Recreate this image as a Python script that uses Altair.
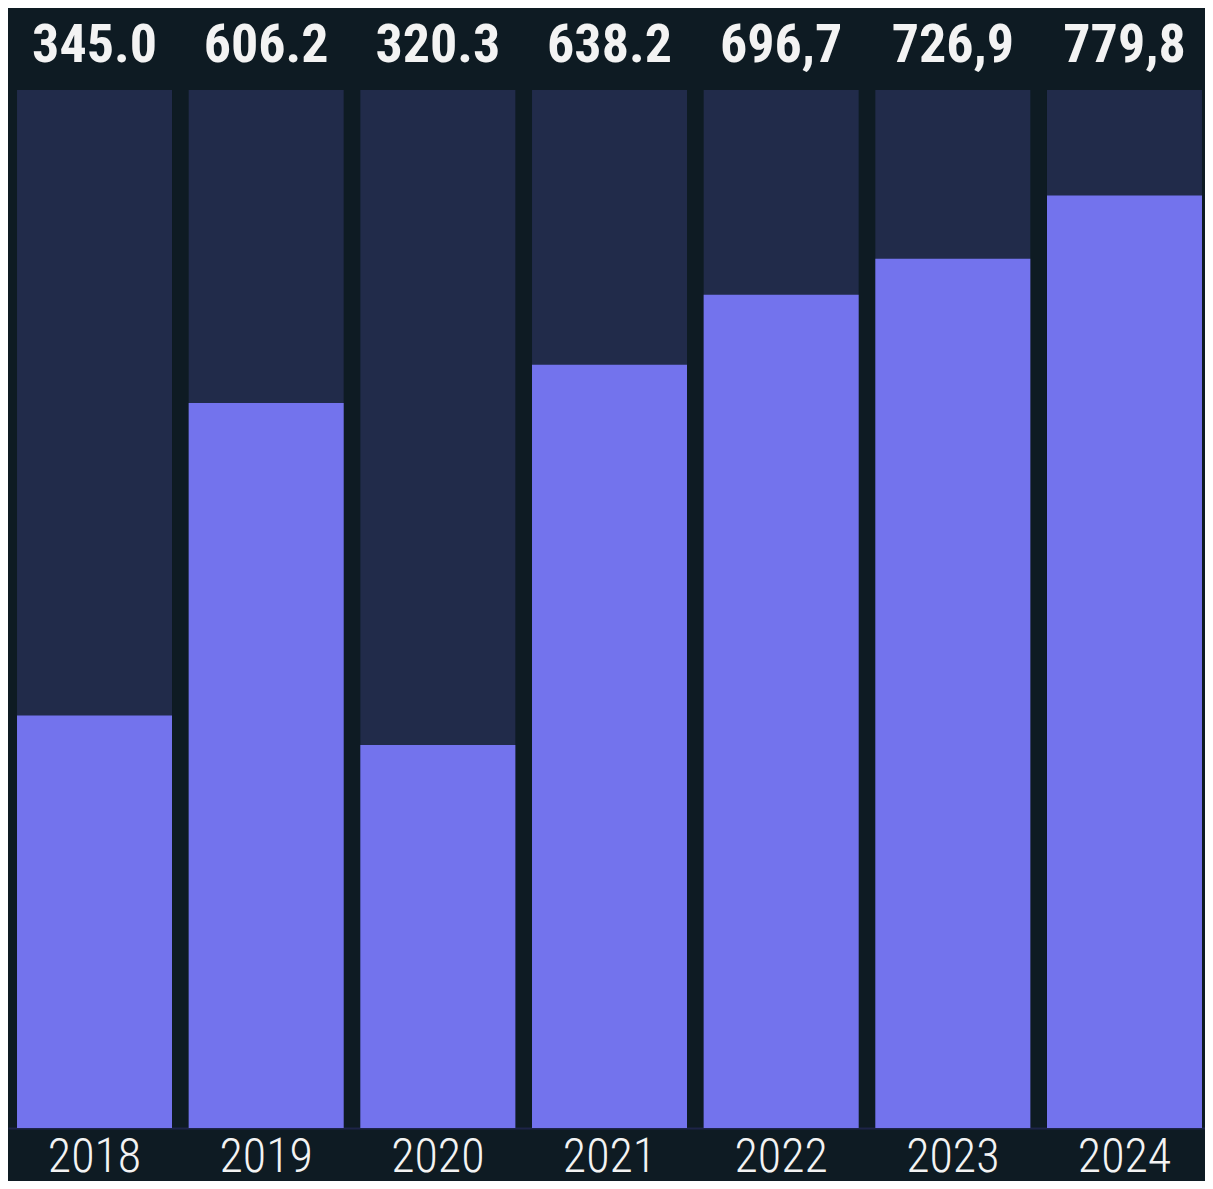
import altair as alt
import pandas as pd

years = ["2018", "2019", "2020", "2021", "2022", "2023", "2024"]
values = [345.0, 606.2, 320.3, 638.2, 696.7, 726.9, 779.8]
labels = ["345.0", "606.2", "320.3", "638.2", "696,7", "726,9", "779,8"]
track_max = 868

df = pd.DataFrame({"year": years, "value": values, "label": labels,
                   "track": [track_max] * len(years)})

BG = "#0e1b23"
NAVY = "#212b4a"
PURPLE = "#7373ed"
TEXT = "#f3f3f3"
FONT = "Roboto Condensed, Oswald, Roboto, sans-serif"

x = alt.X("year:N", title=None, sort=years,
          scale=alt.Scale(paddingInner=0.0971, paddingOuter=0.035, align=0.75),
          axis=alt.Axis(labelAngle=0, labelFont=FONT, labelFontSize=48,
                        labelColor=TEXT, labelFontWeight=300, labelPadding=5,
                        ticks=False, domain=True, domainColor="#1d2448",
                        domainWidth=2, grid=False))
yscale = alt.Scale(domain=[0, track_max], nice=False, zero=True)

base = alt.Chart(df)
track = base.mark_bar(color=NAVY).encode(
    x=x, y=alt.Y("track:Q", scale=yscale, axis=None))
bars = base.mark_bar(color=PURPLE).encode(
    x=x, y=alt.Y("value:Q", scale=yscale, axis=None))
text = base.mark_text(font=FONT, fontSize=54, fontWeight="bold", color=TEXT,
                      baseline="alphabetic", align="center").encode(
    x=x, y=alt.value(-28), text="label:N")

chart = alt.layer(track, bars, text).properties(
    width=1197, height=1038, background=BG,
    padding={"left": 0, "top": 82, "right": 0, "bottom": 53},
    autosize=alt.AutoSizeParams(type="none"),
).configure_view(stroke=None)

chart.save("out.html", embed_options={"renderer": "svg", "actions": False})
